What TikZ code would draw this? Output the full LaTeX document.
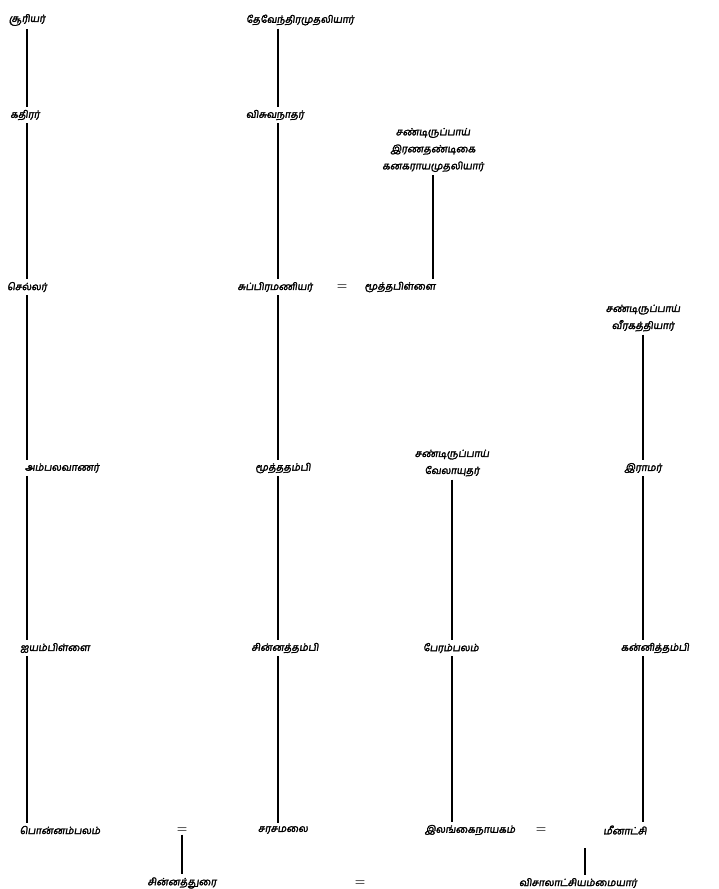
\documentclass[tikz,border=0pt]{standalone}
\usepackage{fontspec}
\newfontfamily\tamil[Script=Tamil,FakeSlant=0.15,FakeBold=2.5]{Hind Madurai}
\usepackage{tikz}
\usetikzlibrary{positioning}

\begin{document}
\begin{tikzpicture}[x=1pt, y=-1pt,
    person/.style = {font=\tamil\fontsize{10}{17}\selectfont, inner sep=3pt, align=center},
    wed/.style = {font=\bfseries\large, inner sep=2pt},
    kin/.style = {line width=1.1pt}]
    \useasboundingbox (0,0) rectangle (719,889);

    % columns of the lines
    \coordinate (ca) at (27,0);
    \coordinate (cb) at (278,0);
    \coordinate (cc) at (433,0);
    \coordinate (cd) at (452,0);
    \coordinate (ce) at (643,0);

    % first line of descent
    \node[person] (suri) at (27,20) {சூரியர்};
    \node[person] (kathir) at (25,115) {கதிரர்};
    \node[person] (chellar) at (27,287) {செல்லர்};
    \node[person] (ambala) at (62,468) {அம்பலவாணர்};
    \node[person] (aiyam) at (55,648) {ஐயம்பிள்ளை};
    \node[person] (ponnam) at (60,830) {பொன்னம்பலம்};

    % second line of descent
    \node[person] (theven) at (300,20) {தேவேந்திரமுதலியார்};
    \node[person] (visu) at (275,115) {விசுவநாதர்};
    \node[person] (subra) at (275,287) {சுப்பிரமணியர்};
    \node[wed] (eqa) at (342,287) {=};
    \node[person] (muthap) at (400,287) {மூத்தபிள்ளை};
    \node[person] (kanaka) at (433,150) {சண்டிருப்பாய்\\இரணதண்டிகை\\கனகராயமுதலியார்};
    \node[person] (muthat) at (283,468) {மூத்ததம்பி};
    \node[person] (chinnat) at (285,648) {சின்னத்தம்பி};
    \node[person] (sarasa) at (283,830) {சரசமலை};

    % third line of descent
    \node[person] (velay) at (452,463) {சண்டிருப்பாய்\\வேலாயுதர்};
    \node[person] (peram) at (451,648) {பேரம்பலம்};
    \node[person] (ilanka) at (470,830) {இலங்கைநாயகம்};

    % fourth line of descent
    \node[person] (veera) at (643,318) {சண்டிருப்பாய்\\வீரகத்தியார்};
    \node[person] (ramar) at (643,468) {இராமர்};
    \node[person] (kanni) at (655,648) {கன்னித்தம்பி};
    \node[person] (meena) at (625,830) {மீனாட்சி};

    % marriages
    \node[wed] (eqb) at (182,830) {=};
    \node[wed] (eqc) at (541,830) {=};
    \node[person] (chinnad) at (182,883) {சின்னத்துரை};
    \node[wed] (eqd) at (360,883) {=};
    \node[person] (visala) at (578,883) {விசாலாட்சியம்மையார்};
    \coordinate (cf) at (585,848);

    \draw[kin] (suri.south -| ca) -- (kathir.north -| ca);
    \draw[kin] (kathir.south -| ca) -- (chellar.north -| ca);
    \draw[kin] (chellar.south -| ca) -- (ambala.north -| ca);
    \draw[kin] (ambala.south -| ca) -- (aiyam.north -| ca);
    \draw[kin] (aiyam.south -| ca) -- (ponnam.north -| ca);

    \draw[kin] (theven.south -| cb) -- (visu.north -| cb);
    \draw[kin] (visu.south -| cb) -- (subra.north -| cb);
    \draw[kin] (subra.south -| cb) -- (muthat.north -| cb);
    \draw[kin] (muthat.south -| cb) -- (chinnat.north -| cb);
    \draw[kin] (chinnat.south -| cb) -- (sarasa.north -| cb);
    \draw[kin] (kanaka.south -| cc) -- (muthap.north -| cc);

    \draw[kin] (velay.south -| cd) -- (peram.north -| cd);
    \draw[kin] (peram.south -| cd) -- (ilanka.north -| cd);

    \draw[kin] (veera.south -| ce) -- (ramar.north -| ce);
    \draw[kin] (ramar.south -| ce) -- (kanni.north -| ce);
    \draw[kin] (kanni.south -| ce) -- (meena.north -| ce);

    \draw[kin] (eqb.south) -- (chinnad.north);
    \draw[kin] (cf) -- (visala.north -| cf);
\end{tikzpicture}
\end{document}
